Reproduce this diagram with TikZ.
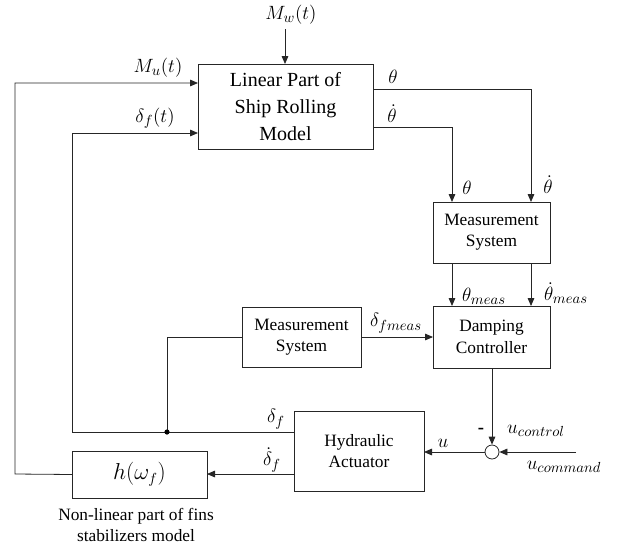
\documentclass[tikz,border=0pt]{standalone}
\usepackage{fontspec}
\setmainfont{Liberation Serif}
\usetikzlibrary{arrows.meta}
\begin{document}
\begin{tikzpicture}[x=0.75pt,y=-0.75pt,
  box/.style={draw=black!85,line width=0.6pt,inner sep=0pt,outer sep=0pt,align=center,font=\fontsize{13}{16}\selectfont},
  wire/.style={draw=black!85,line width=0.6pt},
  arr/.style={wire,-{Triangle[length=6pt,width=5pt]}},
  lbl/.style={font=\fontsize{15.5}{16}\selectfont,inner sep=0pt},
  txt/.style={font=\fontsize{13}{16}\selectfont,inner sep=0pt,align=center}]
\useasboundingbox (0,0) rectangle (618,547);
% blocks
\node[box,minimum width=131.25pt,minimum height=63.75pt,font=\fontsize{15}{20}\selectfont] (ship) at (285.5,106.5) {Linear Part of\\Ship Rolling\\Model};
\node[box,minimum width=87.75pt,minimum height=45.75pt] (meas1) at (491.5,232.5) {Measurement\\System};
\node[box,minimum width=87.75pt,minimum height=46.5pt] (damp) at (491.5,337) {Damping\\Controller};
\node[box,minimum width=89.25pt,minimum height=45pt] (meas2) at (301.5,337) {Measurement\\System};
\node[box,minimum width=97.5pt,minimum height=60pt] (hyd) at (359,451) {Hydraulic\\Actuator};
\node[box,minimum width=101.25pt,minimum height=35.25pt,font=\fontsize{16}{18}\selectfont] (h) at (139.5,474.5) {$h(\omega_f)$};
\node[draw=black!85,line width=0.6pt,circle,minimum size=10.5pt,inner sep=0pt] (sum) at (492,452) {};
\node[txt] (cap) at (136,525) {Non-linear part of fins\\stabilizers model};
% coordinates
\coordinate (mwin) at (285,29);
\coordinate (yMu) at (0,83);
\coordinate (yDf) at (0,133);
\coordinate (yTh) at (0,89);
\coordinate (yThd) at (0,127);
\coordinate (xTh) at (531,0);
\coordinate (xThd) at (452,0);
\coordinate (yd) at (0,432);
\coordinate (ydd) at (0,474);
\coordinate (ucmd) at (576,452);
\coordinate (lft1) at (15,474);
\coordinate (lft2) at (72,432);
\coordinate (dot) at (167,432);
% connectors
\draw[arr] (mwin) -- (ship.north -| mwin);
\draw[arr] (h.west) -- (lft1) |- (ship.west |- yMu);
\draw[wire] (hyd.west |- yd) -- (lft2);
\draw[arr] (lft2) |- (ship.west |- yDf);
\draw[wire] (dot) |- (meas2.west);
\fill (dot) circle (2.6);
\draw[arr] (hyd.west |- ydd) -- (h.east |- ydd);
\draw[arr] (ship.east |- yTh) -| (meas1.north -| xTh);
\draw[arr] (ship.east |- yThd) -| (meas1.north -| xThd);
\draw[arr] (meas1.south -| xThd) -- (damp.north -| xThd);
\draw[arr] (meas1.south -| xTh) -- (damp.north -| xTh);
\draw[arr] (meas2.east) -- (damp.west);
\draw[arr] (damp.south -| sum) -- (sum.north);
\draw[arr] (ucmd) -- (sum.east);
\draw[arr] (sum.west) -- (hyd.east |- sum);
% labels
\node[lbl] at (291,15) {$M_w(t)$};
\node[lbl] at (158,68) {$M_u(t)$};
\node[lbl] at (155,118) {$\delta_f(t)$};
\node[lbl] at (393,77) {$\theta$};
\node[lbl] at (392,114) {$\dot\theta$};
\node[lbl] at (467,188) {$\theta$};
\node[lbl] at (548,185) {$\dot\theta$};
\node[lbl] at (484,296) {$\theta_{meas}$};
\node[lbl] at (566,293) {$\dot\theta_{meas}$};
\node[lbl] at (396,323) {$\delta_{fmeas}$};
\node[lbl] at (536,431) {$u_{control}$};
\node[lbl] at (564,467) {$u_{command}$};
\node[lbl] at (443,443) {$u$};
\node[lbl,font=\bfseries\fontsize{14}{16}\selectfont] at (481,431) {-};
\node[lbl] at (276,419) {$\delta_f$};
\node[lbl] at (272,460) {$\dot\delta_f$};
\end{tikzpicture}
\end{document}
